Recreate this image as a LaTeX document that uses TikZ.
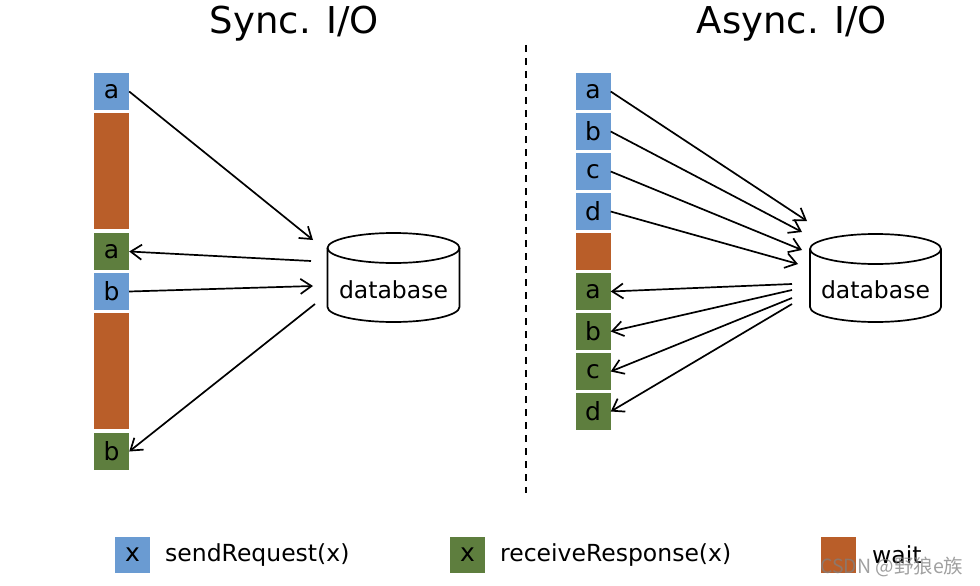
\documentclass[tikz,border=0pt]{standalone}
\usepackage{fontspec}
\setmainfont{DejaVu Sans}
\newfontfamily\cjkfont{Noto Sans CJK SC}
\usetikzlibrary{arrows.meta}
\definecolor{reqblue}{RGB}{106,155,210}
\definecolor{respgreen}{RGB}{94,126,62}
\definecolor{waitorange}{RGB}{185,94,41}
\tikzset{
  blk/.style={inner sep=0pt, minimum width=35pt, minimum height=37pt, font=\fontsize{25}{28}\selectfont, text=black},
  reqbox/.style={blk, fill=reqblue},
  respbox/.style={blk, fill=respgreen},
  waitbox/.style={blk, fill=waitorange},
  conn/.style={line width=1.7pt, -{Straight Barb[length=11pt,width=15pt,line width=1.7pt]}},
  dbline/.style={line width=1.7pt},
  title/.style={font=\fontsize{37}{42}\selectfont},
  dbtext/.style={font=\fontsize{23.5}{27}\selectfont},
  lbl/.style={font=\fontsize{23.5}{27}\selectfont, anchor=west, inner sep=0pt},
}
\begin{document}
\begin{tikzpicture}[x=1pt,y=-1pt]
\useasboundingbox (0,0) rectangle (980,586);

% titles
\node[title] (t1) at (294.5,24) {Sync. I/O};
\node[title] (t2) at (792,24) {Async. I/O};

% divider
\coordinate (dtop) at (526,45);
\coordinate (dbot) at (526,493);
\draw[line width=1.6pt, dash pattern=on 7pt off 6pt] (dtop) -- (dbot);

% ---------- Sync ----------
\node[reqbox] (sa) at (111.5,91.5) {a};
\node[waitbox, minimum height=116pt] (sw1) at (111.5,171) {};
\node[respbox] (sra) at (111.5,251.5) {a};
\node[reqbox] (sb) at (111.5,291.5) {b};
\node[waitbox, minimum height=116pt] (sw2) at (111.5,371) {};
\node[respbox] (srb) at (111.5,451.5) {b};

% sync database
\draw[dbline] (393.5,248) ellipse [x radius=66pt, y radius=15pt];
\draw[dbline] (327.5,248) -- (327.5,307) arc[start angle=180, end angle=360, x radius=66pt, y radius=15pt] -- (459.5,248);
\node[dbtext] (db1) at (393.5,290) {database};

\coordinate (s1) at (313,240);
\coordinate (s2) at (311,261);
\coordinate (s3) at (313,286);
\coordinate (s4) at (315,304);
\draw[conn] (sa.east) -- (s1);
\draw[conn] (s2) -- (sra.east);
\draw[conn] (sb.east) -- (s3);
\draw[conn] (s4) -- (srb.east);

% ---------- Async ----------
\node[reqbox] (qa) at (593,91.5) {a};
\node[reqbox] (qb) at (593,131.5) {b};
\node[reqbox] (qc) at (593,171.5) {c};
\node[reqbox] (qd) at (593,211.5) {d};
\node[waitbox] (aw) at (593,251.5) {};
\node[respbox] (ra) at (593,291.5) {a};
\node[respbox] (rb) at (593,331.5) {b};
\node[respbox] (rc) at (593,371.5) {c};
\node[respbox] (rd) at (593,411.5) {d};

% async database
\draw[dbline] (875.5,249) ellipse [x radius=65.5pt, y radius=15pt];
\draw[dbline] (810,249) -- (810,307) arc[start angle=180, end angle=360, x radius=65.5pt, y radius=15pt] -- (941,249);
\node[dbtext] (db2) at (875.5,290) {database};

\coordinate (p1) at (807,221);
\coordinate (p2) at (802,232);
\coordinate (p3) at (802,250);
\coordinate (p4) at (798,264);
\coordinate (g1) at (792,284);
\coordinate (g2) at (792,290);
\coordinate (g3) at (792,298);
\coordinate (g4) at (792,304);
\draw[conn] (qa.east) -- (p1);
\draw[conn] (qb.east) -- (p2);
\draw[conn] (qc.east) -- (p3);
\draw[conn] (qd.east) -- (p4);
\draw[conn] (g1) -- (ra.east);
\draw[conn] (g2) -- (rb.east);
\draw[conn] (g3) -- (rc.east);
\draw[conn] (g4) -- (rd.east);

% ---------- Legend ----------
\node[reqbox, minimum height=36pt] (l1) at (132.5,555) {x};
\node[lbl] (l1t) at (165,555) {sendRequest(x)};
\node[respbox, minimum height=36pt] (l2) at (467.5,555) {x};
\node[lbl] (l2t) at (500,555) {receiveResponse(x)};
\node[waitbox, minimum height=36pt] (l3) at (838,555) {};
\node[lbl] (l3t) at (872,555) {wait};

% watermark
\node[anchor=west, inner sep=0pt, text=gray, opacity=0.75, font=\cjkfont\fontsize{19.5}{22}\selectfont] (wm) at (820,567) {CSDN @野狼e族};
\end{tikzpicture}
\end{document}
